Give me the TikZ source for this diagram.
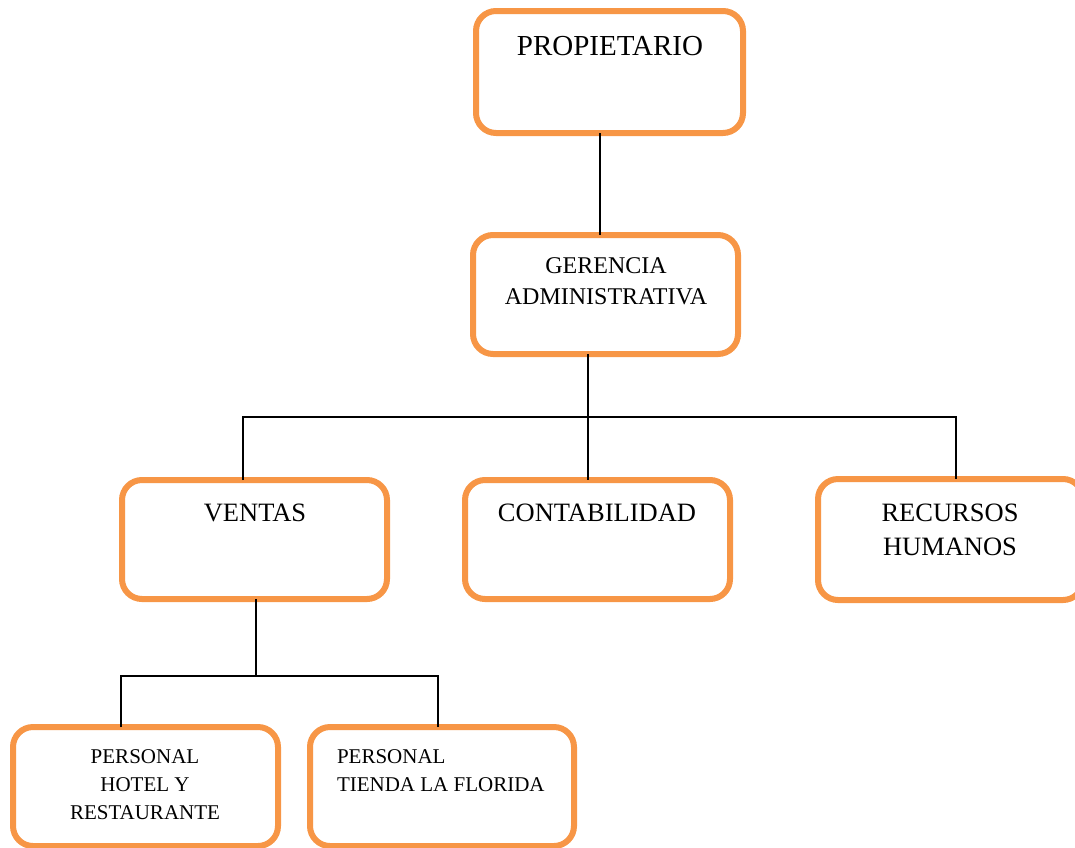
\documentclass[tikz,border=0pt]{standalone}
\usepackage{fontspec}
\setmainfont{Liberation Serif}
\definecolor{boxorange}{HTML}{F79646}
\tikzset{
  orgbox/.style={draw=boxorange, line width=6pt, rounded corners=20pt, fill=white,
    inner sep=0pt, outer sep=0pt},
  lbl/.style={inner sep=0pt, outer sep=0pt, text=black},
  conn/.style={draw=black, line width=2pt},
}
\begin{document}
\begin{tikzpicture}[x=1pt, y=-1pt]
\useasboundingbox (0,0) rectangle (1075,847);
\clip (0,0) rectangle (1075,847);
% boxes
\node[orgbox, minimum width=267pt, minimum height=122pt] (prop) at (609.5,72) {};
\node[orgbox, minimum width=265pt, minimum height=119pt] (ger) at (605.5,294.5) {};
\node[orgbox, minimum width=265pt, minimum height=119pt] (ventas) at (254.5,539.5) {};
\node[orgbox, minimum width=265pt, minimum height=119pt] (conta) at (597.5,539.5) {};
\node[orgbox, minimum width=265pt, minimum height=121pt] (rrhh) at (950.5,539.5) {};
\node[orgbox, minimum width=265pt, minimum height=119pt] (hotel) at (145.5,786.5) {};
\node[orgbox, minimum width=264pt, minimum height=119pt] (tienda) at (442,786.5) {};
% labels
\node[lbl, anchor=north, font=\fontsize{29}{35}\selectfont] (tprop) at (610,36) {PROPIETARIO};
\node[lbl, anchor=north, align=center, font=\fontsize{24}{31}\selectfont] (tger) at (606,258) {GERENCIA\\ADMINISTRATIVA};
\node[lbl, anchor=north, font=\fontsize{26.5}{34}\selectfont] (tventas) at (255,504) {VENTAS};
\node[lbl, anchor=north, font=\fontsize{26.5}{34}\selectfont] (tconta) at (597,504) {CONTABILIDAD};
\node[lbl, anchor=north, align=center, font=\fontsize{26.5}{34}\selectfont] (trrhh) at (950,504) {RECURSOS\\HUMANOS};
\node[lbl, anchor=north, align=center, font=\fontsize{21}{28}\selectfont] (thotel) at (145,750) {PERSONAL\\HOTEL Y\\RESTAURANTE};
\node[lbl, anchor=north west, align=left, font=\fontsize{21}{28}\selectfont] (ttienda) at (337,750) {PERSONAL\\TIENDA LA FLORIDA};
% connector junctions
\coordinate (x1) at (600,0);
\coordinate (busA) at (588,417);
\coordinate (busL) at (243,417);
\coordinate (busR) at (956,417);
\coordinate (x2) at (256,0);
\coordinate (busB) at (256,676);
\coordinate (busBL) at (121,676);
\coordinate (busBR) at (438,676);
% connectors
\draw[conn] (prop.south -| x1) -- (ger.north -| x1);
\draw[conn] (ger.south -| busA) -- (conta.north -| busA);
\draw[conn] (ventas.north -| busL) -- (busL) -- (busR) -- (rrhh.north -| busR);
\draw[conn] (ventas.south -| x2) -- (busB);
\draw[conn] (hotel.north -| busBL) -- (busBL) -- (busBR) -- (tienda.north -| busBR);
\end{tikzpicture}
\end{document}
